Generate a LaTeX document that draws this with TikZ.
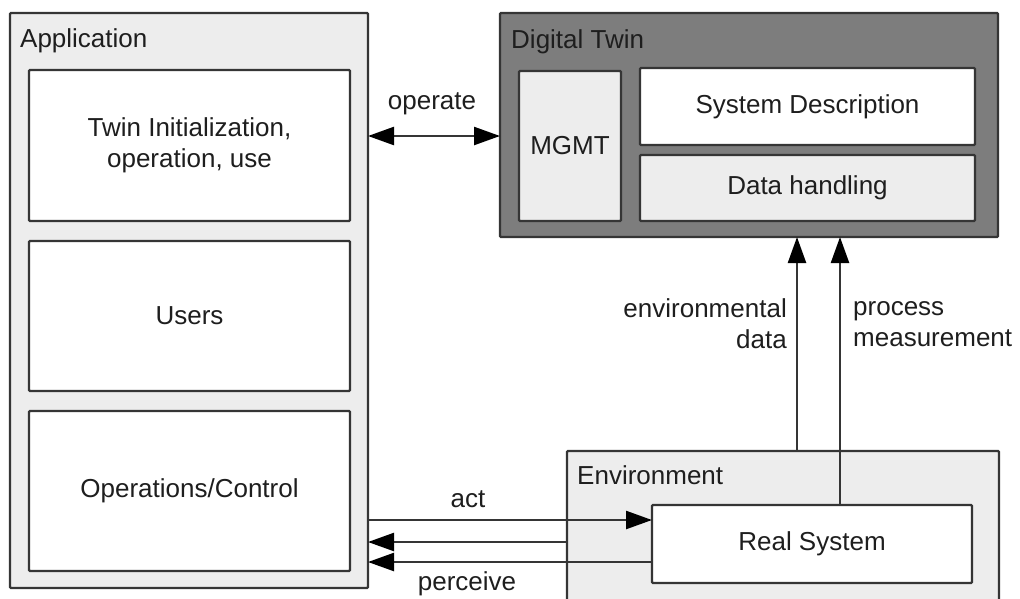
\documentclass[tikz,border=0pt]{standalone}
\usepackage{fontspec}
\setmainfont{Liberation Sans}
\usetikzlibrary{arrows.meta}

\definecolor{edge}{HTML}{353535}
\definecolor{lightfill}{HTML}{EDEDED}
\definecolor{darkfill}{HTML}{7D7D7D}
\definecolor{ink}{HTML}{1E1E1E}

\tikzset{
  frame/.style={draw=edge, line width=2.4pt, inner sep=0pt, outer sep=0pt,
    anchor=north west, rounded corners=1pt},
  lightbox/.style={frame, fill=lightfill},
  whitebox/.style={frame, fill=white},
  darkbox/.style={frame, fill=darkfill},
  label/.style={text=ink, inner sep=0pt, font=\fontsize{26}{31}\selectfont},
  tip/.tip={Triangle[length=26pt,width=18pt,color=black]},
  flow/.style={draw=edge, line width=2.4pt, -tip},
  bothflow/.style={draw=edge, line width=2.4pt, tip-tip}
}

\begin{document}
\begin{tikzpicture}[x=1pt, y=-1pt]
\useasboundingbox (0,0) rectangle (1020,598);

% Application column
\node[lightbox, minimum width=358, minimum height=575] (app) at (10,13) {};
\node[label, anchor=base west] (apptitle) at (20,47) {Application};
\node[whitebox, minimum width=321, minimum height=151] (init) at (29,70) {};
\node[label, align=center] (inittext) at (init.center) {Twin Initialization,\\operation, use};
\node[whitebox, minimum width=321, minimum height=150] (users) at (29,241) {};
\node[label] (userstext) at (users.center) {Users};
\node[whitebox, minimum width=321, minimum height=160] (ops) at (29,411) {};
\node[label] (opstext) at (ops.center) {Operations/Control};

% Digital twin
\node[darkbox, minimum width=498, minimum height=224] (dt) at (500,13) {};
\node[label, anchor=base west] (dttitle) at (511,48) {Digital Twin};
\node[lightbox, minimum width=102, minimum height=150] (mgmt) at (519,71) {};
\node[label] (mgmttext) at (mgmt.center) {MGMT};
\node[whitebox, minimum width=335, minimum height=77] (sysdesc) at (640,68) {};
\node[label] (sysdesctext) at (sysdesc.center) {System Description};
\node[lightbox, minimum width=335, minimum height=66] (data) at (640,155) {};
\node[label] (datatext) at (data.center) {Data handling};

% Environment with the real system
\node[lightbox, minimum width=432, minimum height=160] (env) at (567,451) {};
\node[label, anchor=base west] (envtitle) at (577,484) {Environment};
\node[whitebox, minimum width=320, minimum height=78] (rs) at (652,505) {};
\node[label] (rstext) at (rs.center) {Real System};

% Connector heights and columns
\coordinate (opY) at (0,136);
\coordinate (actY) at (0,520);
\coordinate (percA) at (0,542);
\coordinate (percB) at (0,562);
\coordinate (envX) at (797,0);
\coordinate (procX) at (840,0);

% Connectors
\draw[bothflow] (app.east |- opY) -- (dt.west |- opY);
\draw[flow] (app.east |- actY) -- (rs.west |- actY);
\draw[flow] (env.west |- percA) -- (app.east |- percA);
\draw[flow] (rs.west |- percB) -- (app.east |- percB);
\draw[flow] (env.north -| envX) -- (dt.south -| envX);
\draw[flow] (rs.north -| procX) -- (dt.south -| procX);

% Connector labels
\node[label] (oplabel) at (432,104) {operate};
\node[label] (actlabel) at (468,499) {act};
\node[label] (perclabel) at (467,584) {perceive};
\node[label, align=right, anchor=east] (envlabel) at (787,324) {environmental\\data};
\node[label, align=left, anchor=west] (proclabel) at (853,324) {process\\measurement};
\end{tikzpicture}
\end{document}
